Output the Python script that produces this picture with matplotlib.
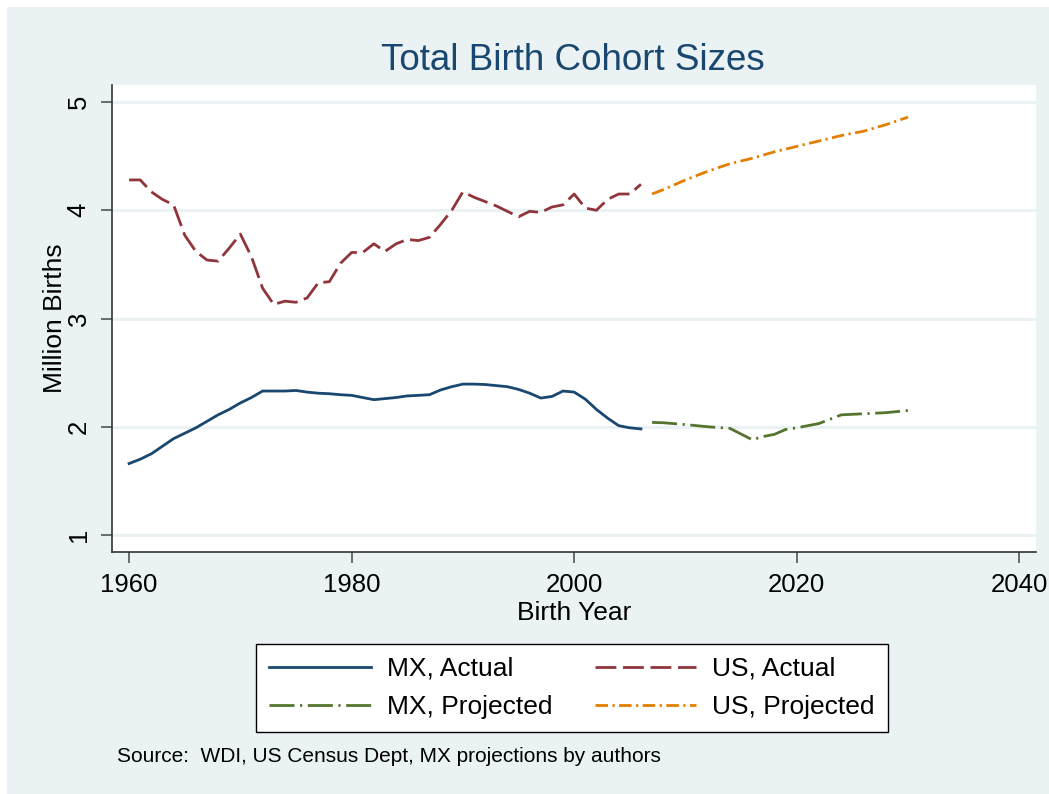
import matplotlib
matplotlib.use("Agg")
import matplotlib.pyplot as plt
from matplotlib.patches import Rectangle

plt.rcParams['font.family'] = ['Liberation Sans', 'DejaVu Sans']

# data (million births)
mx_act_years = list(range(1960, 2007))
mx_act = [1.66, 1.70, 1.75, 1.82, 1.89, 1.94, 1.99, 2.05, 2.11, 2.16, 2.22,
          2.27, 2.33, 2.33, 2.33, 2.335, 2.32, 2.31, 2.305, 2.296, 2.29,
          2.27, 2.25, 2.26, 2.27, 2.285, 2.29, 2.296, 2.34, 2.37, 2.394,
          2.394, 2.39, 2.38, 2.37, 2.345, 2.31, 2.265, 2.28, 2.33, 2.32,
          2.255, 2.16, 2.08, 2.01, 1.99, 1.98]

us_act_years = list(range(1960, 2007))
us_act = [4.28, 4.28, 4.17, 4.10, 4.05, 3.77, 3.62, 3.54, 3.53, 3.65, 3.78,
          3.57, 3.28, 3.13, 3.16, 3.15, 3.19, 3.33, 3.34, 3.51, 3.61,
          3.61, 3.69, 3.62, 3.69, 3.73, 3.72, 3.75, 3.87, 4.00, 4.17,
          4.12, 4.08, 4.04, 3.99, 3.94, 3.99, 3.98, 4.03, 4.05, 4.15,
          4.02, 4.00, 4.10, 4.15, 4.15, 4.24]

mx_proj_years = [2007, 2008, 2010, 2012, 2014, 2016, 2017, 2018, 2019, 2020,
                 2022, 2024, 2026, 2028, 2030]
mx_proj = [2.04, 2.037, 2.02, 2.00, 1.985, 1.88, 1.91, 1.93, 1.975, 1.99,
           2.03, 2.11, 2.12, 2.13, 2.15]

us_proj_years = [2007, 2008, 2010, 2012, 2014, 2016, 2018, 2020, 2022,
                 2024, 2026, 2028, 2030]
us_proj = [4.15, 4.19, 4.28, 4.36, 4.43, 4.48, 4.54, 4.59, 4.64, 4.69,
           4.73, 4.79, 4.86]

bg = '#eaf2f3'
navy = '#1a476f'
maroon = '#90353b'
green = '#55752f'
orange = '#e37e00'

fig = plt.figure(figsize=(10.49, 7.94), dpi=100)
fig.patch.set_facecolor('white')
fig.patches.append(Rectangle((7 / 1049, 0), 1 - 7 / 1049, 1 - 7 / 794,
                             transform=fig.transFigure, facecolor=bg,
                             edgecolor='none', zorder=-10))

ax = fig.add_axes([111.7 / 1049, 1 - 552 / 794, (1036 - 111.7) / 1049, (552 - 85) / 794])
ax.set_facecolor('white')

lw = 2.0
l1, = ax.plot(mx_act_years, mx_act, color=navy, lw=lw, label='MX, Actual')
l2, = ax.plot(us_act_years, us_act, color=maroon, lw=lw, dashes=(7.5, 2.4), label='US, Actual')
l3, = ax.plot(mx_proj_years, mx_proj, color=green, lw=lw, dashes=(9, 2, 0.8, 2), label='MX, Projected')
l4, = ax.plot(us_proj_years, us_proj, color=orange, lw=lw, dashes=(4.5, 1.6, 0.8, 1.6), label='US, Projected')

ax.set_xlim(1958.44, 2041.5)
ax.set_ylim(0.843, 5.157)
ax.set_xticks([1960, 1980, 2000, 2020, 2040])
ax.set_yticks([1, 2, 3, 4, 5])
ax.grid(axis='y', color=bg, lw=2.2)
ax.set_axisbelow(True)

for s in ['top', 'right']:
    ax.spines[s].set_visible(False)
for s in ['left', 'bottom']:
    ax.spines[s].set_color('#333333')
    ax.spines[s].set_linewidth(1.2)
ax.tick_params(length=8, width=1.2, color='#555555', labelsize=18.5, pad=7)
plt.setp(ax.get_yticklabels(), rotation=90, va='center')

ax.set_xlabel('Birth Year', fontsize=19, labelpad=3)
ax.set_ylabel('Million Births', fontsize=19, labelpad=0)

fig.text(573 / 1049, 1 - 60 / 794, 'Total Birth Cohort Sizes', fontsize=26.5,
         color=navy, ha='center', va='center')

# column-major fill, so order gives rows: MX/US actual, MX/US projected
leg = fig.legend([l1, l3, l2, l4], [l1.get_label(), l3.get_label(), l2.get_label(), l4.get_label()],
                 loc='center', bbox_to_anchor=(572 / 1049, 1 - 688 / 794), ncol=2,
                 fontsize=19, handlelength=3.85, handletextpad=0.6, columnspacing=1.6,
                 labelspacing=0.55, borderpad=0.5, fancybox=False, framealpha=1)
leg.get_frame().set_edgecolor('black')
leg.get_frame().set_linewidth(1.0)

fig.text(117 / 1049, 1 - 756 / 794, 'Source:  WDI, US Census Dept, MX projections by authors',
         fontsize=15, ha='left', va='center')

fig.savefig('out.png', dpi=100)
